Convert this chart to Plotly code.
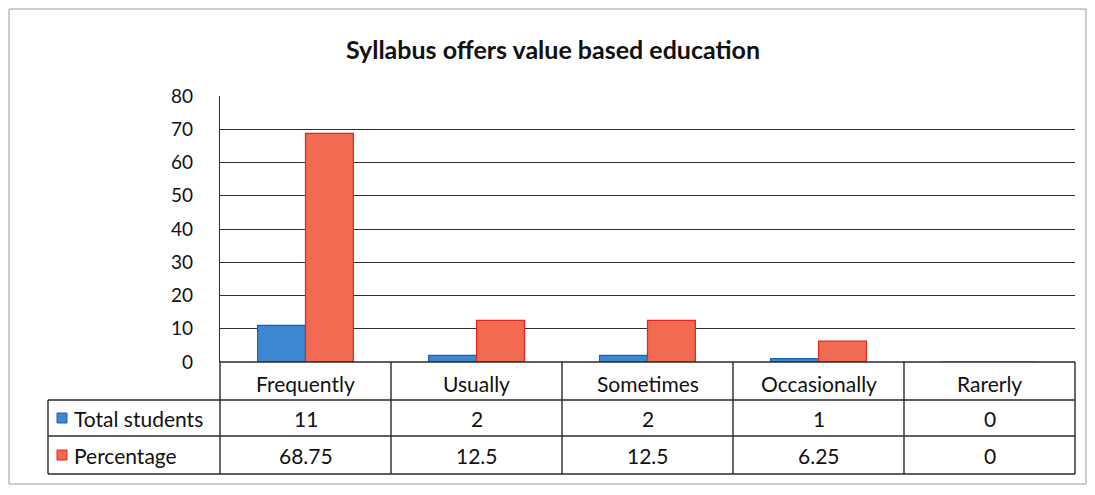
import plotly.graph_objects as go

categories = ["Frequently", "Usually", "Sometimes", "Occasionally", "Rarerly"]
total_students = [11, 2, 2, 1, 0]
percentage = [68.75, 12.5, 12.5, 6.25, 0]
pct_labels = ["68.75", "12.5", "12.5", "6.25", "0"]
series_names = ["Total students", "Percentage"]
title = "Syllabus offers value based education"

OFF = 8  # page body margin
W, H = 1095 - 2 * OFF, 495 - 2 * OFF
L, R, T, B = 220 - OFF, 1075 - OFF, 96 - OFF, 362 - OFF  # plot area in figure pixels
FONT = "Lato, 'Open Sans', sans-serif"
BLUE, BLUE_EDGE = "#3d87d2", "#1f5fa8"
RED, RED_EDGE = "#f36a52", "#e3261c"


def px(x):
    return (x - OFF - L) / (R - L)


def py(y):
    return (B - (y - OFF)) / (B - T)


fig = go.Figure()
fig.add_bar(x=categories, y=total_students, name=series_names[0],
            marker=dict(color=BLUE, line=dict(color=BLUE_EDGE, width=1.2)))
fig.add_bar(x=categories, y=percentage, name=series_names[1],
            marker=dict(color=RED, line=dict(color=RED_EDGE, width=1.2)))

shapes = []
annotations = []
line = dict(color="#2a2a2a", width=1.4)

# outer chart border
shapes.append(dict(type="rect", xref="paper", yref="paper",
                   x0=px(9), x1=px(1086), y0=py(484), y1=py(9),
                   line=dict(color="#9a9a9a", width=1), layer="below"))

# table geometry (page pixels)
header_top, row1_top, row2_top, table_bot = 362, 400, 436, 474
col_edges = [220 + i * (1075 - 220) / 5 for i in range(6)]
left_edge = 48

shapes.append(dict(type="line", xref="paper", yref="paper", x0=px(220), x1=px(1075),
                   y0=py(header_top), y1=py(header_top), line=line))
for yy in (row1_top, row2_top, table_bot):
    shapes.append(dict(type="line", xref="paper", yref="paper", x0=px(left_edge), x1=px(1075),
                       y0=py(yy), y1=py(yy), line=line))
shapes.append(dict(type="line", xref="paper", yref="paper", x0=px(left_edge), x1=px(left_edge),
                   y0=py(row1_top), y1=py(table_bot), line=line))
for xx in col_edges:
    shapes.append(dict(type="line", xref="paper", yref="paper", x0=px(xx), x1=px(xx),
                       y0=py(header_top), y1=py(table_bot), line=line))

rows = [
    (series_names[0], [str(v) for v in total_students], BLUE, BLUE_EDGE, (row1_top + row2_top) / 2),
    (series_names[1], pct_labels, RED, RED_EDGE, (row2_top + table_bot) / 2),
]
tf = dict(family=FONT, size=21, color="#111111")
for c in categories:
    annotations.append(dict(x=c, xref="x", y=py((header_top + row1_top) / 2 + 2), yref="paper",
                            text=c, showarrow=False, font=tf, xanchor="center", yanchor="middle"))
for name, vals, col, edge, yc in rows:
    shapes.append(dict(type="rect", xref="paper", yref="paper",
                       x0=px(57), x1=px(67), y0=py(yc + 5), y1=py(yc - 5),
                       fillcolor=col, line=dict(color=edge, width=1)))
    annotations.append(dict(x=px(72), xref="paper", y=py(yc), yref="paper", text=name,
                            showarrow=False, font=tf, xanchor="left", yanchor="middle"))
    for c, v in zip(categories, vals):
        annotations.append(dict(x=c, xref="x", y=py(yc), yref="paper", text=v,
                                showarrow=False, font=tf, xanchor="center", yanchor="middle"))

fig.update_layout(
    width=W, height=H,
    margin=dict(l=L, r=W - R, t=T, b=H - B),
    paper_bgcolor="white", plot_bgcolor="white",
    barmode="group", bargap=0.44, bargroupgap=0,
    showlegend=False,
    title=dict(text="<b>" + title + "</b>", x=(553 - OFF) / W, xanchor="center",
               y=1 - (50 - OFF) / H, yanchor="middle",
               font=dict(family=FONT, size=25, color="#111111")),
    xaxis=dict(showticklabels=False, showgrid=False, range=[-0.5, 4.5],
               showline=False, zeroline=False, ticks=""),
    yaxis=dict(range=[0, 80], dtick=10, showgrid=True, gridcolor="#2f2f2f", gridwidth=1.4,
               zeroline=False, showline=True, linecolor="#2f2f2f", linewidth=1.4,
               ticks="", ticklabelstandoff=22,
               tickfont=dict(family=FONT, size=19, color="#111111")),
    shapes=shapes, annotations=annotations,
    font=dict(family=FONT),
)
fig.write_html("out.html")
